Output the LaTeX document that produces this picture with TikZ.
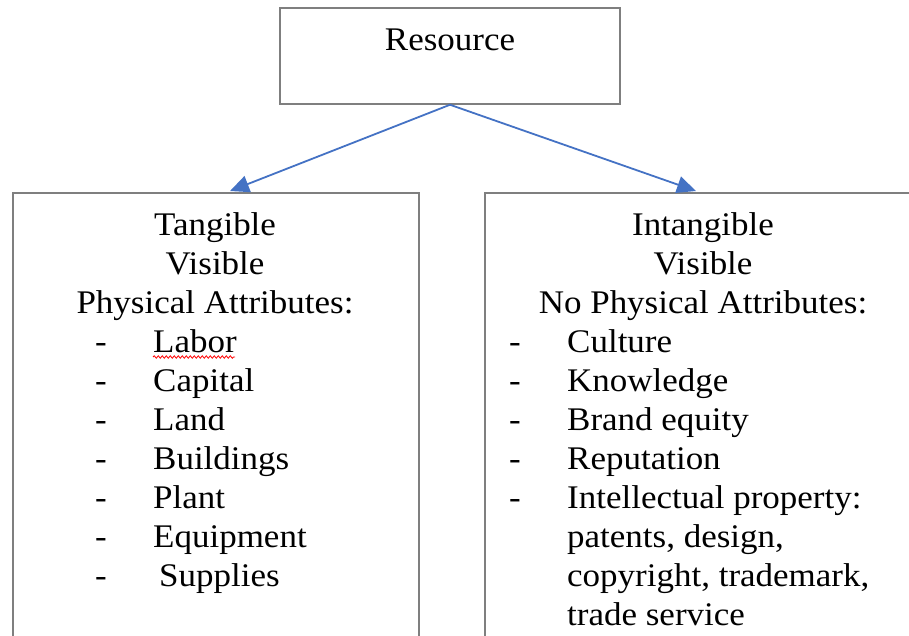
\documentclass[tikz,border=0pt]{standalone}
\usepackage{fontspec}
\setmainfont{Liberation Serif}[FakeStretch=1.06]
\usetikzlibrary{arrows.meta,decorations.pathmorphing}
\definecolor{linkblue}{HTML}{4472C4}
\definecolor{boxgray}{HTML}{7F7F7F}
\begin{document}
\begin{tikzpicture}[x=1pt,y=-1pt,
  box/.style={draw=boxgray,line width=1.5pt,inner sep=0pt},
  txt/.style={font=\fontsize{33}{39}\selectfont,inner sep=0pt,anchor=base},
  item/.style={txt,anchor=base west},
  link/.style={draw=linkblue,line width=1.8pt,-{Triangle[length=19pt,width=17pt]}}]
\useasboundingbox (0,0) rectangle (909,635);
\clip (0,0) rectangle (909,635);

% boxes
\node[box,minimum width=340pt,minimum height=96pt] (res) at (450,56) {};
\node[box,anchor=north west,minimum width=406pt,minimum height=520pt] (tang) at (12,192) {};
\node[box,anchor=north west,minimum width=438pt,minimum height=520pt] (intang) at (484,192) {};

% top label
\node[txt] (restext) at (450,50) {Resource};

% connectors
\coordinate (tangin) at (230,191);
\coordinate (intangin) at (696,191);
\draw[link] (res.south) -- (tangin);
\draw[link] (res.south) -- (intangin);

% tangible column
\node[txt] (t1) at (215,235) {Tangible};
\node[txt] (t2) at (215,274) {Visible};
\node[txt] (t3) at (215,313) {Physical Attributes:};
\foreach \w [count=\i] in {Labor,Capital,Land,Buildings,Plant,Equipment} {
  \node[item] (td\i) at (95,313+39*\i) {-};
  \node[item] (ti\i) at (153,313+39*\i) {\w};
}
\node[item] (td7) at (95,586) {-};
\node[item] (ti7) at (159,586) {Supplies};
\draw[red,line width=0.8pt,decorate,decoration={snake,amplitude=1.2pt,segment length=4pt}]
  (153,357) -- (235,357);

% intangible column
\node[txt] (i1) at (703,235) {Intangible};
\node[txt] (i2) at (703,274) {Visible};
\node[txt] (i3) at (703,313) {No Physical Attributes:};
\foreach \w [count=\i] in {Culture,Knowledge,Brand equity,Reputation,Intellectual property:} {
  \node[item] (id\i) at (509,313+39*\i) {-};
  \node[item] (ii\i) at (567,313+39*\i) {\w};
}
\node[item] (ic1) at (567,547) {patents, design,};
\node[item] (ic2) at (567,586) {copyright, trademark,};
\node[item] (ic3) at (567,625) {trade service};
\end{tikzpicture}
\end{document}
